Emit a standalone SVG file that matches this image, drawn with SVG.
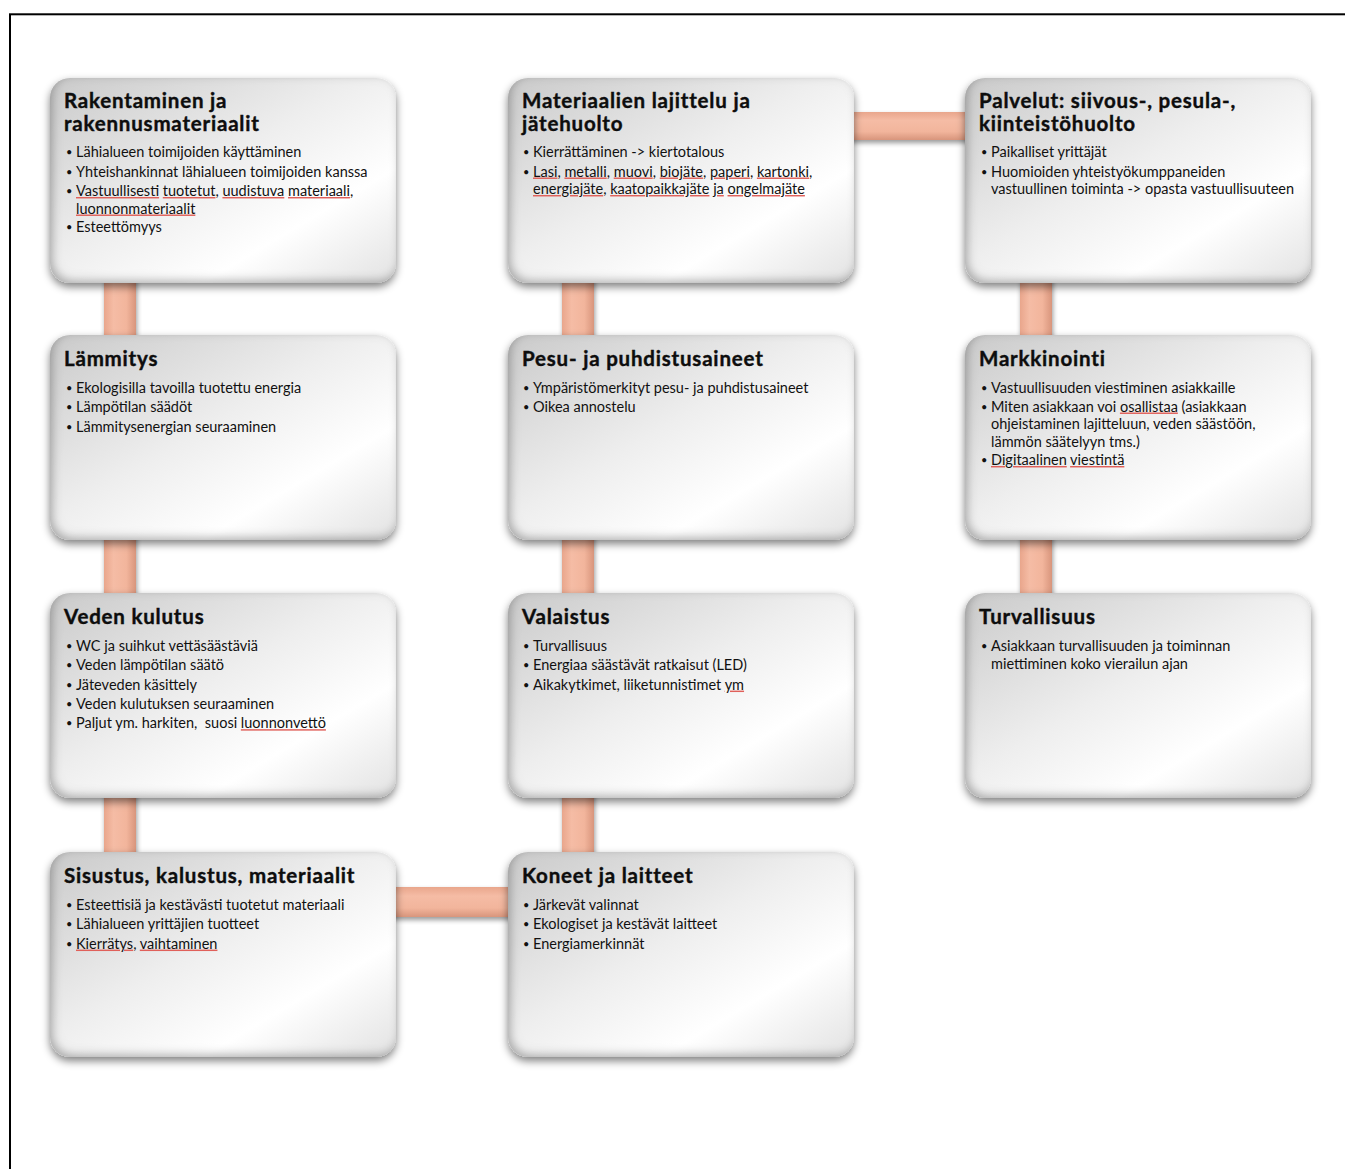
<svg xmlns="http://www.w3.org/2000/svg" width="1345" height="1169" viewBox="0 0 1345 1169">
<defs>
<style>
.t{font-family:Lato,"Noto Sans","Liberation Sans",sans-serif;font-weight:700;font-size:20.5px;letter-spacing:0.8px;fill:#0d0d0d;stroke:#0d0d0d;stroke-width:0.4px}
.b{font-family:Lato,"Noto Sans","Liberation Sans",sans-serif;font-size:14.5px;fill:#111}
.d{font-family:Lato,"Noto Sans","Liberation Sans",sans-serif;font-size:11px;fill:#111}
.sp{fill:#e0605a;text-decoration-line:underline;text-decoration-style:wavy;text-decoration-thickness:1px}
.k{fill:#111}
.box{fill:url(#bg);filter:url(#bev)}
.vbar{fill:url(#vg);filter:url(#bs)}
.hbar{fill:url(#hg);filter:url(#bs)}
</style>
<linearGradient id="bg" x1="0" y1="0" x2="1" y2="1">
<stop offset="0" stop-color="#cacaca"/>
<stop offset="0.45" stop-color="#eeeeee"/>
<stop offset="0.72" stop-color="#ffffff"/>
<stop offset="1" stop-color="#e2e2e2"/>
</linearGradient>
<linearGradient id="vg" x1="0" y1="0" x2="1" y2="0">
<stop offset="0" stop-color="#e9a68c"/>
<stop offset="0.3" stop-color="#f5bca5"/>
<stop offset="0.7" stop-color="#f2b59c"/>
<stop offset="1" stop-color="#d8957c"/>
</linearGradient>
<linearGradient id="hg" x1="0" y1="0" x2="0" y2="1">
<stop offset="0" stop-color="#e9a68c"/>
<stop offset="0.3" stop-color="#f5bca5"/>
<stop offset="0.7" stop-color="#f2b59c"/>
<stop offset="1" stop-color="#d8957c"/>
</linearGradient>
<filter id="bs" x="-30%" y="-30%" width="160%" height="160%">
<feGaussianBlur in="SourceAlpha" stdDeviation="2.5"/>
<feOffset dx="1" dy="3" result="o"/>
<feComponentTransfer in="o" result="d"><feFuncA type="linear" slope="0.4"/></feComponentTransfer>
<feMerge><feMergeNode in="d"/><feMergeNode in="SourceGraphic"/></feMerge>
</filter>
<filter id="bev" x="-8%" y="-10%" width="116%" height="125%">
<feGaussianBlur in="SourceAlpha" stdDeviation="4" result="blur"/>
<feOffset in="blur" dy="4" result="ob"/>
<feComponentTransfer in="ob" result="drop"><feFuncA type="linear" slope="0.5"/></feComponentTransfer>
<feGaussianBlur in="SourceAlpha" stdDeviation="5" result="ib"/>
<feOffset in="ib" dx="3" dy="-3" result="ibo"/>
<feComposite in="SourceAlpha" in2="ibo" operator="out" result="ring"/>
<feFlood flood-color="#6a6a6a" flood-opacity="0.65"/>
<feComposite in2="ring" operator="in" result="shade"/>
<feMerge><feMergeNode in="drop"/><feMergeNode in="SourceGraphic"/><feMergeNode in="shade"/></feMerge>
</filter>
</defs>
<rect width="1345" height="1169" fill="#ffffff"/>
<rect x="10" y="14.3" width="1345" height="1169" fill="none" stroke="#000" stroke-width="2"/>

<g id="connectors">
<rect class="vbar" x="104" y="270" width="32" height="80"/>
<rect class="vbar" x="104" y="528" width="32" height="80"/>
<rect class="vbar" x="104" y="786" width="32" height="80"/>
<rect class="hbar" x="380" y="887" width="140" height="30"/>
<rect class="vbar" x="562" y="786" width="32" height="80"/>
<rect class="vbar" x="562" y="528" width="32" height="80"/>
<rect class="vbar" x="562" y="270" width="32" height="80"/>
<rect class="hbar" x="840" y="112" width="140" height="28"/>
<rect class="vbar" x="1020" y="270" width="32" height="80"/>
<rect class="vbar" x="1020" y="528" width="32" height="80"/>
</g>

<g id="n1">
<rect class="box" x="50" y="78" width="346" height="205" rx="20"/>
<text class="t" x="64" y="108">Rakentaminen ja<tspan x="64" dy="23">rakennusmateriaalit</tspan></text>
<text class="d" x="66" y="156">•</text><text class="b" x="76" y="157">Lähialueen toimijoiden käyttäminen</text>
<text class="d" x="66" y="175.5">•</text><text class="b" x="76" y="176.5">Yhteishankinnat lähialueen toimijoiden kanssa</text>
<text class="d" x="66" y="195">•</text><text class="b" x="76" y="196"><tspan class="sp"><tspan class="k">Vastuullisesti</tspan></tspan> <tspan class="sp"><tspan class="k">tuotetut</tspan></tspan>, <tspan class="sp"><tspan class="k">uudistuva</tspan></tspan> <tspan class="sp"><tspan class="k">materiaali</tspan></tspan>,<tspan x="76" dy="17.5"><tspan class="sp"><tspan class="k">luonnonmateriaalit</tspan></tspan></tspan></text>
<text class="d" x="66" y="231">•</text><text class="b" x="76" y="232">Esteettömyys</text>
</g>

<g id="n2">
<rect class="box" x="50" y="335" width="346" height="205" rx="20"/>
<text class="t" x="64" y="366">Lämmitys</text>
<text class="d" x="66" y="392">•</text><text class="b" x="76" y="393">Ekologisilla tavoilla tuotettu energia</text>
<text class="d" x="66" y="411.3">•</text><text class="b" x="76" y="412.3">Lämpötilan säädöt</text>
<text class="d" x="66" y="430.6">•</text><text class="b" x="76" y="431.6">Lämmitysenergian seuraaminen</text>
</g>

<g id="n3">
<rect class="box" x="50" y="593" width="346" height="205" rx="20"/>
<text class="t" x="64" y="624">Veden kulutus</text>
<text class="d" x="66" y="650">•</text><text class="b" x="76" y="651">WC ja suihkut vettäsäästäviä</text>
<text class="d" x="66" y="669.3">•</text><text class="b" x="76" y="670.3">Veden lämpötilan säätö</text>
<text class="d" x="66" y="688.6">•</text><text class="b" x="76" y="689.6">Jäteveden käsittely</text>
<text class="d" x="66" y="707.9">•</text><text class="b" x="76" y="708.9">Veden kulutuksen seuraaminen</text>
<text class="d" x="66" y="727.2">•</text><text class="b" x="76" y="728.2" xml:space="preserve">Paljut ym. harkiten,  suosi <tspan class="sp"><tspan class="k">luonnonvettö</tspan></tspan></text>
</g>

<g id="n4">
<rect class="box" x="50" y="852" width="346" height="205" rx="20"/>
<text class="t" x="64" y="883">Sisustus, kalustus, materiaalit</text>
<text class="d" x="66" y="909">•</text><text class="b" x="76" y="910">Esteettisiä ja kestävästi tuotetut materiaali</text>
<text class="d" x="66" y="928.3">•</text><text class="b" x="76" y="929.3">Lähialueen yrittäjien tuotteet</text>
<text class="d" x="66" y="947.6">•</text><text class="b" x="76" y="948.6"><tspan class="sp"><tspan class="k">Kierrätys</tspan></tspan>, <tspan class="sp"><tspan class="k">vaihtaminen</tspan></tspan></text>
</g>

<g id="n5">
<rect class="box" x="508" y="852" width="346" height="205" rx="20"/>
<text class="t" x="522" y="883">Koneet ja laitteet</text>
<text class="d" x="523" y="909">•</text><text class="b" x="533" y="910">Järkevät valinnat</text>
<text class="d" x="523" y="928.3">•</text><text class="b" x="533" y="929.3">Ekologiset ja kestävät laitteet</text>
<text class="d" x="523" y="947.6">•</text><text class="b" x="533" y="948.6">Energiamerkinnät</text>
</g>

<g id="n6">
<rect class="box" x="508" y="593" width="346" height="205" rx="20"/>
<text class="t" x="522" y="624">Valaistus</text>
<text class="d" x="523" y="650">•</text><text class="b" x="533" y="651">Turvallisuus</text>
<text class="d" x="523" y="669.3">•</text><text class="b" x="533" y="670.3">Energiaa säästävät ratkaisut (LED)</text>
<text class="d" x="523" y="688.6">•</text><text class="b" x="533" y="689.6">Aikakytkimet, liiketunnistimet <tspan class="sp"><tspan class="k">ym</tspan></tspan></text>
</g>

<g id="n7">
<rect class="box" x="508" y="335" width="346" height="205" rx="20"/>
<text class="t" x="522" y="366">Pesu- ja puhdistusaineet</text>
<text class="d" x="523" y="392">•</text><text class="b" x="533" y="393">Ympäristömerkityt pesu- ja puhdistusaineet</text>
<text class="d" x="523" y="411.3">•</text><text class="b" x="533" y="412.3">Oikea annostelu</text>
</g>

<g id="n8">
<rect class="box" x="508" y="78" width="346" height="205" rx="20"/>
<text class="t" x="522" y="108">Materiaalien lajittelu ja<tspan x="522" dy="23">jätehuolto</tspan></text>
<text class="d" x="523" y="156">•</text><text class="b" x="533" y="157">Kierrättäminen -&gt; kiertotalous</text>
<text class="d" x="523" y="175.5">•</text><text class="b" x="533" y="176.5"><tspan class="sp"><tspan class="k">Lasi</tspan></tspan>, <tspan class="sp"><tspan class="k">metalli</tspan></tspan>, <tspan class="sp"><tspan class="k">muovi</tspan></tspan>, <tspan class="sp"><tspan class="k">biojäte</tspan></tspan>, <tspan class="sp"><tspan class="k">paperi</tspan></tspan>, <tspan class="sp"><tspan class="k">kartonki</tspan></tspan>,<tspan x="533" dy="17.5"><tspan class="sp"><tspan class="k">energiajäte</tspan></tspan>, <tspan class="sp"><tspan class="k">kaatopaikkajäte</tspan></tspan> <tspan class="sp"><tspan class="k">ja</tspan></tspan> <tspan class="sp"><tspan class="k">ongelmajäte</tspan></tspan></tspan></text>
</g>

<g id="n9">
<rect class="box" x="965" y="78" width="346" height="205" rx="20"/>
<text class="t" x="979" y="108">Palvelut: siivous-, pesula-,<tspan x="979" dy="23">kiinteistöhuolto</tspan></text>
<text class="d" x="981" y="156">•</text><text class="b" x="991" y="157">Paikalliset yrittäjät</text>
<text class="d" x="981" y="175.5">•</text><text class="b" x="991" y="176.5">Huomioiden yhteistyökumppaneiden<tspan x="991" dy="17.5">vastuullinen toiminta -&gt; opasta vastuullisuuteen</tspan></text>
</g>

<g id="n10">
<rect class="box" x="965" y="335" width="346" height="205" rx="20"/>
<text class="t" x="979" y="366">Markkinointi</text>
<text class="d" x="981" y="391.5">•</text><text class="b" x="991" y="392.5">Vastuullisuuden viestiminen asiakkaille</text>
<text class="d" x="981" y="410.5">•</text><text class="b" x="991" y="411.5">Miten asiakkaan voi <tspan class="sp"><tspan class="k">osallistaa</tspan></tspan> (asiakkaan<tspan x="991" dy="17.5">ohjeistaminen lajitteluun, veden säästöön,</tspan><tspan x="991" dy="17.5">lämmön säätelyyn tms.)</tspan></text>
<text class="d" x="981" y="464">•</text><text class="b" x="991" y="465"><tspan class="sp"><tspan class="k">Digitaalinen</tspan></tspan> <tspan class="sp"><tspan class="k">viestintä</tspan></tspan></text>
</g>

<g id="n11">
<rect class="box" x="965" y="593" width="346" height="205" rx="20"/>
<text class="t" x="979" y="624">Turvallisuus</text>
<text class="d" x="981" y="650">•</text><text class="b" x="991" y="651">Asiakkaan turvallisuuden ja toiminnan<tspan x="991" dy="17.5">miettiminen koko vierailun ajan</tspan></text>
</g>
</svg>
